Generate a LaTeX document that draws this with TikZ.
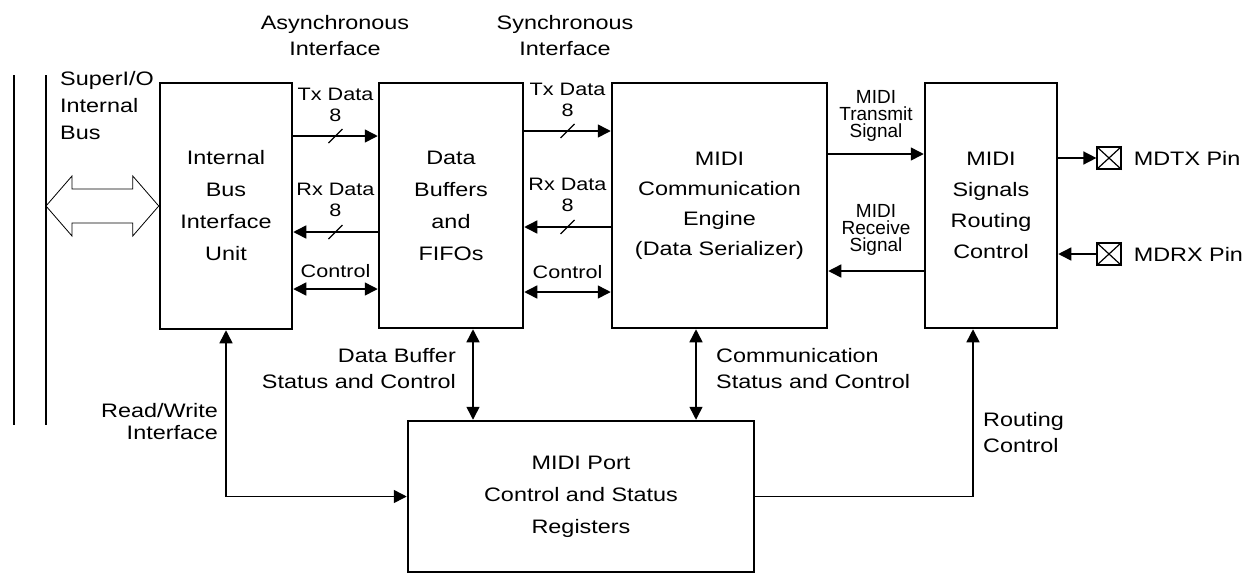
\documentclass[tikz,border=0pt]{standalone}
\usepackage{fontspec}
\setmainfont[FakeStretch=1.2]{Liberation Sans}
\newfontfamily\narrowfont{Liberation Sans}
\usetikzlibrary{arrows.meta,positioning,calc}

\begin{document}
\begin{tikzpicture}[x=1pt, y=-1pt,
    blk/.style={draw, line width=2.5pt, align=center, inner sep=0pt, font=\fontsize{19.5}{32}\selectfont},
    lbl/.style={inner sep=0pt, font=\fontsize{19.5}{26}\selectfont},
    sml/.style={align=center, inner sep=0pt, font=\fontsize{18}{21}\selectfont},
    tny/.style={align=center, inner sep=0pt, font=\narrowfont\fontsize{19}{17}\selectfont},
    sig/.style={line width=1.5pt, -{Triangle[length=13pt,width=13pt]}},
    bisig/.style={line width=1.5pt, {Triangle[length=13pt,width=13pt]}-{Triangle[length=13pt,width=13pt]}},
    pad/.style={draw, line width=1.2pt, minimum width=24pt, minimum height=22pt, inner sep=0pt}]
    \useasboundingbox (0,0) rectangle (1255,574);

    % blocks
    \node[blk, minimum width=132pt, minimum height=246pt] (biu) at (226,206) {Internal\\Bus\\Interface\\Unit};
    \node[blk, minimum width=144pt, minimum height=245pt] (buf) at (451,205.5) {Data\\Buffers\\and\\FIFOs};
    \node[blk, minimum width=215pt, minimum height=245pt, font=\fontsize{19.5}{30}\selectfont] (eng) at (719.5,205.5) {MIDI\\Communication\\Engine\\(Data Serializer)};
    \node[blk, minimum width=132pt, minimum height=245pt, font=\fontsize{19.5}{31}\selectfont] (route) at (991,205.5) {MIDI\\Signals\\Routing\\Control};
    \node[blk, minimum width=346pt, minimum height=151pt] (regs) at (581,496.5) {MIDI Port\\Control and Status\\Registers};

    % internal bus
    \draw[line width=2.5pt] (14,75) -- (14,425);
    \draw[line width=2.5pt] (46,75) -- (46,425);
    \coordinate (busL) at (46,206);
    \node[lbl, align=left, anchor=north west, font=\fontsize{19.5}{27}\selectfont] (busname) at (60,71) {SuperI/O\\Internal\\Bus};
    \draw[line width=0.8pt] (busL) -- ++(26,-30) -- ++(0,13) -- ($(biu.west)+(-26,-17)$) -- ++(0,-13) -- (biu.west)
        -- ++(-26,30) -- ++(0,-13) -- ($(busL)+(26,17)$) -- ++(0,13) -- cycle;

    % interface titles
    \node[lbl, align=center] (async) at (335,36) {Asynchronous\\Interface};
    \node[lbl, align=center] (sync) at (565,36) {Synchronous\\Interface};

    % asynchronous side
    \draw[sig] (biu.east |- 0,136) -- (buf.west |- 0,136) coordinate[midway] (tx1) node[midway, sml, above=14pt] {Tx Data\\8};
    \draw[sig] (buf.west |- 0,232) -- (biu.east |- 0,232) coordinate[midway] (rx1) node[midway, sml, above=15pt] {Rx Data\\8};
    \draw[bisig] (biu.east |- 0,289) -- (buf.west |- 0,289) node[midway, sml, above=11pt] {Control};

    % synchronous side
    \draw[sig] (buf.east |- 0,131) -- (eng.west |- 0,131) coordinate[midway] (tx2) node[midway, sml, above=14pt] {Tx Data\\8};
    \draw[sig] (eng.west |- 0,227) -- (buf.east |- 0,227) coordinate[midway] (rx2) node[midway, sml, above=15pt] {Rx Data\\8};
    \draw[bisig] (buf.east |- 0,292) -- (eng.west |- 0,292) node[midway, sml, above=13pt] {Control};
    \foreach \s in {tx1,rx1,tx2,rx2}
        \draw[line width=1.2pt] ($(\s)+(-7,7)$) -- ($(\s)+(7,-7)$);

    % MIDI signals
    \draw[sig] (eng.east |- 0,154) -- (route.west |- 0,154) node[midway, tny, above=12pt] {MIDI\\Transmit\\Signal};
    \draw[sig] (route.west |- 0,271) -- (eng.east |- 0,271) node[midway, tny, above=15pt] {MIDI\\Receive\\Signal};

    % pins
    \node[pad] (tx) at (1109,158) {};
    \node[pad] (rx) at (1109,254) {};
    \foreach \p in {tx,rx}
        \draw[line width=1.2pt] (\p.north west) -- (\p.south east) (\p.south west) -- (\p.north east);
    \node[lbl, anchor=west] at ([xshift=12pt]tx.east) {MDTX Pin};
    \node[lbl, anchor=west] at ([xshift=12pt]rx.east) {MDRX Pin};
    \draw[sig] (route.east |- tx) -- (tx.west);
    \draw[sig] (rx.west) -- (route.east |- rx);

    % status and control paths
    \draw[bisig] (biu.south) |- (regs.west);
    \node[lbl, align=right, anchor=north east] at (218,403) {Read/Write\\[-4pt]Interface};
    \draw[bisig] (buf.south -| 473,0) -- (regs.north -| 473,0);
    \node[lbl, align=right, anchor=north east] at (456,348) {Data Buffer\\Status and Control};
    \draw[bisig] (eng.south -| 696,0) -- (regs.north -| 696,0);
    \node[lbl, align=left, anchor=north west] at (716,348) {Communication\\Status and Control};
    \draw[sig] (regs.east) -| (route.south -| 973,0);
    \node[lbl, align=left, anchor=north west] at (983,412) {Routing\\Control};
\end{tikzpicture}
\end{document}
